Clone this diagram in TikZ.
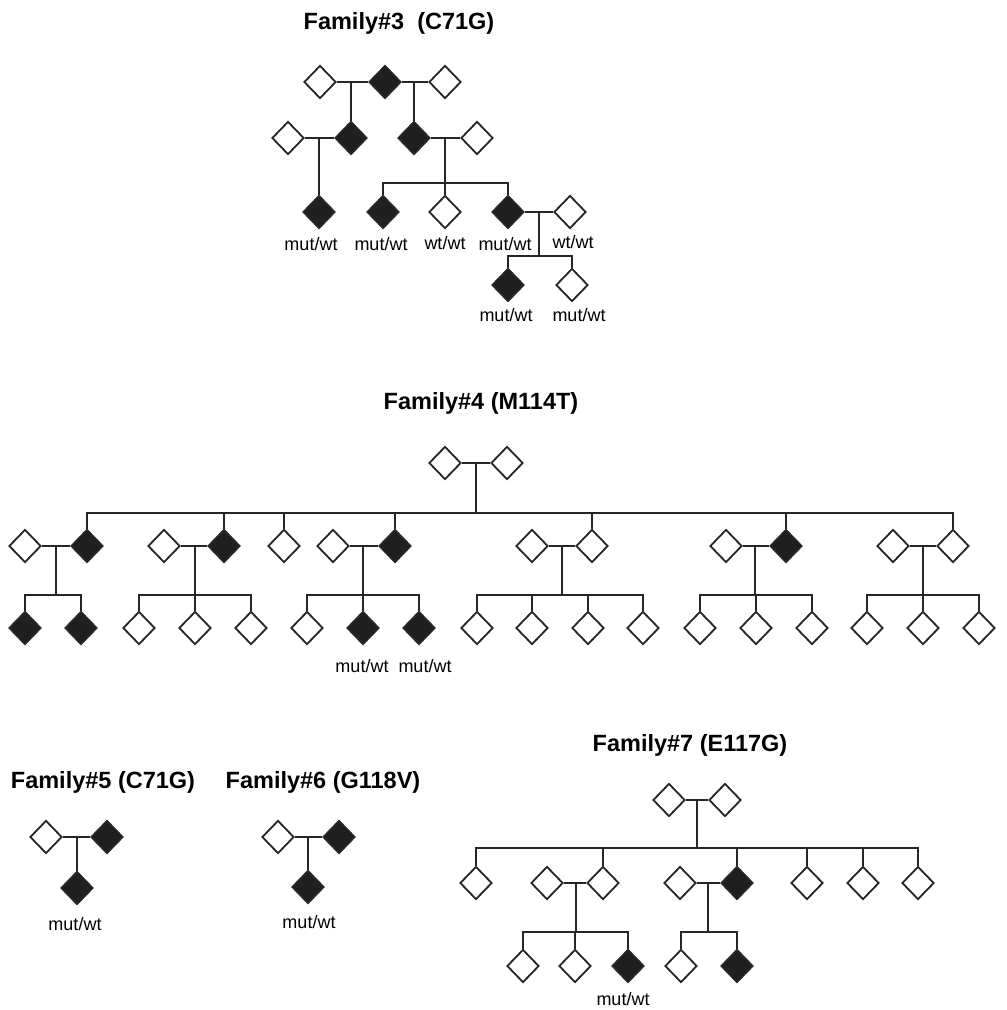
\documentclass[tikz,border=0pt]{standalone}
\usepackage{fontspec}
\setmainfont{Liberation Sans}
\usetikzlibrary{shapes.geometric}
\begin{document}
\begin{tikzpicture}[x=1pt,y=-1pt,
  op/.style={diamond,draw=black!85,line width=1.8pt,fill=white,minimum width=32pt,minimum height=33pt,inner sep=0pt},
  fi/.style={op,fill=black!88},
  ttl/.style={font=\fontsize{23.5}{26}\selectfont\bfseries,inner sep=0pt},
  lab/.style={font=\fontsize{18}{20}\selectfont,inner sep=0pt},
  ln/.style={draw=black!85,line width=1.8pt}]
\useasboundingbox[fill=white] (0,0) rectangle (1007,1010);

% ---------------- Family 3 ----------------
\node[ttl] (t3) at (399,23) {Family\#3\ \ (C71G)};
\node[op] (a3) at (320,82) {};
\node[fi] (b3) at (385,82) {};
\node[op] (c3) at (445,82) {};
\node[op] (d3) at (288,138) {};
\node[fi] (e3) at (351,138) {};
\node[fi] (f3) at (414,138) {};
\node[op] (g3) at (477,138) {};
\node[fi] (h3) at (319,212) {};
\node[fi] (i3) at (383,212) {};
\node[op] (j3) at (445,212) {};
\node[fi] (k3) at (508,212) {};
\node[op] (l3) at (570,212) {};
\node[fi] (m3) at (508,285) {};
\node[op] (n3) at (572,285) {};
\coordinate (p3a) at (351,82);
\coordinate (p3b) at (414,82);
\coordinate (p3c) at (319,138);
\coordinate (p3d) at (445,138);
\coordinate (s3a) at (445,183);
\coordinate (p3e) at (539,212);
\coordinate (s3b) at (539,256);
\draw[ln] (a3.east) -- (b3.west);
\draw[ln] (b3.east) -- (c3.west);
\draw[ln] (p3a) -- (e3.north);
\draw[ln] (p3b) -- (f3.north);
\draw[ln] (d3.east) -- (e3.west);
\draw[ln] (p3c) -- (h3.north);
\draw[ln] (f3.east) -- (g3.west);
\draw[ln] (p3d) -- (s3a);
\draw[ln] (i3.north) -- (i3.north |- s3a) -- (k3.north |- s3a) -- (k3.north);
\draw[ln] (j3.north) -- (j3.north |- s3a);
\draw[ln] (k3.east) -- (l3.west);
\draw[ln] (p3e) -- (s3b);
\draw[ln] (m3.north) -- (m3.north |- s3b) -- (n3.north |- s3b) -- (n3.north);
\node[lab] (l3a) at (311,244) {mut/wt};
\node[lab] (l3b) at (381,244) {mut/wt};
\node[lab] (l3c) at (445,243) {wt/wt};
\node[lab] (l3d) at (505,244) {mut/wt};
\node[lab] (l3e) at (573,242) {wt/wt};
\node[lab] (l3f) at (506,315) {mut/wt};
\node[lab] (l3g) at (579,315) {mut/wt};

% ---------------- Family 4 ----------------
\node[ttl] (t4) at (481,403) {Family\#4 (M114T)};
\node[op] (a4) at (445,463) {};
\node[op] (b4) at (507,463) {};
\coordinate (p4) at (476,463);
\coordinate (s4) at (476,513);
\draw[ln] (a4.east) -- (b4.west);
\draw[ln] (p4) -- (s4);
% generation II
\node[op] (g4a) at (25,546) {};
\node[fi] (g4b) at (87,546) {};
\node[op] (g4c) at (164,546) {};
\node[fi] (g4d) at (224,546) {};
\node[op] (g4e) at (284,546) {};
\node[op] (g4f) at (333,546) {};
\node[fi] (g4g) at (395,546) {};
\node[op] (g4h) at (532,546) {};
\node[op] (g4i) at (592,546) {};
\node[op] (g4j) at (726,546) {};
\node[fi] (g4k) at (786,546) {};
\node[op] (g4l) at (893,546) {};
\node[op] (g4m) at (953,546) {};
\draw[ln] (g4b.north) -- (g4b.north |- s4) -- (g4m.north |- s4) -- (g4m.north);
\foreach \n in {g4d,g4e,g4g,g4i,g4k} \draw[ln] (\n.north) -- (\n.north |- s4);
\draw[ln] (g4a.east) -- (g4b.west);
\draw[ln] (g4c.east) -- (g4d.west);
\draw[ln] (g4f.east) -- (g4g.west);
\draw[ln] (g4h.east) -- (g4i.west);
\draw[ln] (g4j.east) -- (g4k.west);
\draw[ln] (g4l.east) -- (g4m.west);
\coordinate (q4a) at (56,546);  \coordinate (r4a) at (56,595);
\coordinate (q4b) at (195,546); \coordinate (r4b) at (195,595);
\coordinate (q4c) at (363,546); \coordinate (r4c) at (363,595);
\coordinate (q4d) at (562,546); \coordinate (r4d) at (562,595);
\coordinate (q4e) at (755,546); \coordinate (r4e) at (755,595);
\coordinate (q4f) at (923,546); \coordinate (r4f) at (923,595);
\foreach \i in {a,b,c,d,e,f} \draw[ln] (q4\i) -- (r4\i);
% generation III
\node[fi] (h4a) at (25,628) {};
\node[fi] (h4b) at (81,628) {};
\node[op] (h4c) at (139,628) {};
\node[op] (h4d) at (195,628) {};
\node[op] (h4e) at (251,628) {};
\node[op] (h4f) at (307,628) {};
\node[fi] (h4g) at (363,628) {};
\node[fi] (h4h) at (419,628) {};
\node[op] (h4i) at (477,628) {};
\node[op] (h4j) at (532,628) {};
\node[op] (h4k) at (588,628) {};
\node[op] (h4l) at (643,628) {};
\node[op] (h4m) at (700,628) {};
\node[op] (h4n) at (756,628) {};
\node[op] (h4o) at (812,628) {};
\node[op] (h4p) at (867,628) {};
\node[op] (h4q) at (923,628) {};
\node[op] (h4r) at (979,628) {};
\draw[ln] (h4a.north) -- (h4a.north |- r4a) -- (h4b.north |- r4a) -- (h4b.north);
\draw[ln] (h4c.north) -- (h4c.north |- r4b) -- (h4e.north |- r4b) -- (h4e.north);
\draw[ln] (h4d.north) -- (h4d.north |- r4b);
\draw[ln] (h4f.north) -- (h4f.north |- r4c) -- (h4h.north |- r4c) -- (h4h.north);
\draw[ln] (h4g.north) -- (h4g.north |- r4c);
\draw[ln] (h4i.north) -- (h4i.north |- r4d) -- (h4l.north |- r4d) -- (h4l.north);
\draw[ln] (h4j.north) -- (h4j.north |- r4d);
\draw[ln] (h4k.north) -- (h4k.north |- r4d);
\draw[ln] (h4m.north) -- (h4m.north |- r4e) -- (h4o.north |- r4e) -- (h4o.north);
\draw[ln] (h4n.north) -- (h4n.north |- r4e);
\draw[ln] (h4p.north) -- (h4p.north |- r4f) -- (h4r.north |- r4f) -- (h4r.north);
\draw[ln] (h4q.north) -- (h4q.north |- r4f);
\node[lab] (l4a) at (362,666) {mut/wt};
\node[lab] (l4b) at (425,666) {mut/wt};

% ---------------- Family 5 ----------------
\node[ttl] (t5) at (103,782) {Family\#5 (C71G)};
\node[op] (a5) at (46,837) {};
\node[fi] (b5) at (107,837) {};
\node[fi] (c5) at (77,888) {};
\coordinate (p5) at (77,837);
\draw[ln] (a5.east) -- (b5.west);
\draw[ln] (p5) -- (c5.north);
\node[lab] (l5) at (75,924) {mut/wt};

% ---------------- Family 6 ----------------
\node[ttl] (t6) at (323,782) {Family\#6 (G118V)};
\node[op] (a6) at (278,837) {};
\node[fi] (b6) at (339,837) {};
\node[fi] (c6) at (308,887) {};
\coordinate (p6) at (308,837);
\draw[ln] (a6.east) -- (b6.west);
\draw[ln] (p6) -- (c6.north);
\node[lab] (l6) at (309,922) {mut/wt};

% ---------------- Family 7 ----------------
\node[ttl] (t7) at (690,745) {Family\#7 (E117G)};
\node[op] (a7) at (669,800) {};
\node[op] (b7) at (725,800) {};
\coordinate (p7) at (697,800);
\coordinate (s7) at (697,848);
\draw[ln] (a7.east) -- (b7.west);
\draw[ln] (p7) -- (s7);
\node[op] (g7a) at (476,883) {};
\node[op] (g7b) at (547,883) {};
\node[op] (g7c) at (603,883) {};
\node[op] (g7d) at (680,883) {};
\node[fi] (g7e) at (737,883) {};
\node[op] (g7f) at (807,883) {};
\node[op] (g7g) at (863,883) {};
\node[op] (g7h) at (918,883) {};
\draw[ln] (g7a.north) -- (g7a.north |- s7) -- (g7h.north |- s7) -- (g7h.north);
\foreach \n in {g7c,g7e,g7f,g7g} \draw[ln] (\n.north) -- (\n.north |- s7);
\draw[ln] (g7b.east) -- (g7c.west);
\draw[ln] (g7d.east) -- (g7e.west);
\coordinate (q7a) at (576,883); \coordinate (r7a) at (576,932);
\coordinate (q7b) at (708,883); \coordinate (r7b) at (708,932);
\draw[ln] (q7a) -- (r7a);
\draw[ln] (q7b) -- (r7b);
\node[op] (h7a) at (523,966) {};
\node[op] (h7b) at (575,966) {};
\node[fi] (h7c) at (628,966) {};
\node[op] (h7d) at (681,966) {};
\node[fi] (h7e) at (737,966) {};
\draw[ln] (h7a.north) -- (h7a.north |- r7a) -- (h7c.north |- r7a) -- (h7c.north);
\draw[ln] (h7b.north) -- (h7b.north |- r7a);
\draw[ln] (h7d.north) -- (h7d.north |- r7b) -- (h7e.north |- r7b) -- (h7e.north);
\node[lab] (l7) at (623,999) {mut/wt};
\end{tikzpicture}
\end{document}
